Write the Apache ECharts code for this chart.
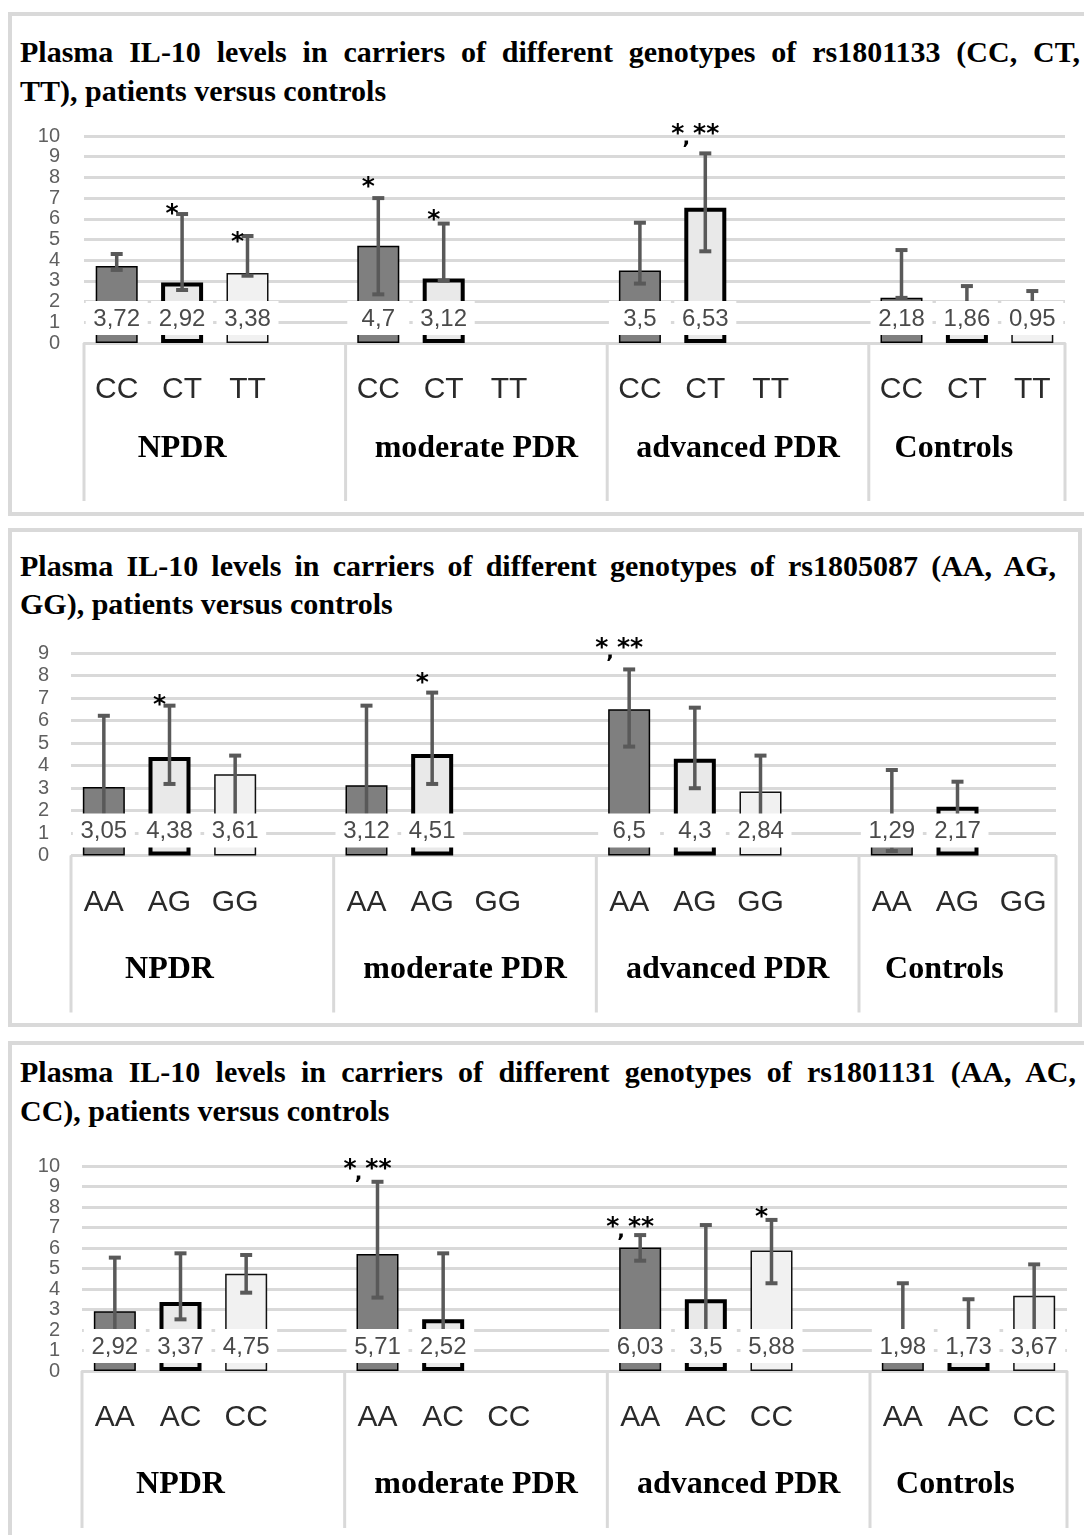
<!DOCTYPE html>
<html><head><meta charset="utf-8">
<script src="https://cdn.jsdelivr.net/npm/echarts@6/dist/echarts.min.js"></script>
<style>
html,body{margin:0;padding:0;background:#fff;}
body{width:1084px;height:1535px;overflow:hidden;position:relative;}
.panel{position:absolute;box-sizing:border-box;border:4px solid #d9d9d9;}
.t{position:absolute;left:20px;font:bold 30px "Liberation Serif","Times New Roman",serif;line-height:39px;color:#000;white-space:nowrap;}
.j{text-align:justify;text-align-last:justify;white-space:normal;}
.chart{position:absolute;left:0;top:0;width:1084px;height:1535px;}
</style></head>
<body>
<div class="panel" style="left:8px;top:12px;width:1100px;height:504px;"></div>
<div class="panel" style="left:8px;top:528px;width:1074px;height:499px;"></div>
<div class="panel" style="left:8px;top:1041px;width:1100px;height:520px;"></div>

<div class="t j" style="top:32px;width:1060px;">Plasma IL-10 levels in carriers of different genotypes of rs1801133 (CC, CT,</div>
<div class="t" style="top:70.5px;">TT), patients versus controls</div>
<div class="t j" style="top:545.5px;width:1036px;">Plasma IL-10 levels in carriers of different genotypes of rs1805087 (AA, AG,</div>
<div class="t" style="top:584px;">GG), patients versus controls</div>
<div class="t j" style="top:1052px;width:1056px;">Plasma IL-10 levels in carriers of different genotypes of rs1801131 (AA, AC,</div>
<div class="t" style="top:1090.5px;">CC), patients versus controls</div>

<div id="c1" class="chart"></div>
<div id="c2" class="chart"></div>
<div id="c3" class="chart"></div>

<script>
// ---------- DATA ----------
const groups = ['NPDR', 'moderate PDR', 'advanced PDR', 'Controls'];

// Panel 1 – rs1801133 ; rows = genotype, columns = group
const genotypes1 = ['CC', 'CT', 'TT'];
const values1  = [[3.72, 4.7, 3.5, 2.18], [2.92, 3.12, 6.53, 1.86], [3.38, null, null, 0.95]];
const errHigh1 = [[4.30, 7.00, 5.81, 4.49], [6.23, 5.77, 9.16, 2.75], [5.17, null, null, 2.51]];
const errLow1  = [[3.53, 2.35, 2.87, 2.18], [2.56, 3.01, 4.43, 1.86], [3.25, null, null, 0.95]];
const marks1   = [[0, 1, 6.52, '*'], [0, 2, 5.13, '*'], [1, 0, 7.79, '*'], [1, 1, 6.23, '*'], [2, 1, 10.37, '*,**']];
const yMax1 = 10;

// Panel 2 – rs1805087
const genotypes2 = ['AA', 'AG', 'GG'];
const values2  = [[3.05, 3.12, 6.5, 1.29], [4.38, 4.51, 4.3, 2.17], [3.61, null, 2.84, null]];
const errHigh2 = [[6.21, 6.66, 8.27, 3.80], [6.66, 7.24, 6.57, 3.28], [4.44, null, 4.44, null]];
const errLow2  = [[1.5, 1.5, 4.84, 0.2], [3.18, 3.18, 2.99, 1.5], [1.5, null, 1.5, null]];
const marks2   = [[0, 1, 6.92, '*'], [1, 1, 7.89, '*'], [2, 0, 9.47, '*,**']];
const yMax2 = 9;

// Panel 3 – rs1801131
const genotypes3 = ['AA', 'AC', 'CC'];
const values3  = [[2.92, 5.71, 6.03, 1.98], [3.37, 2.52, 3.5, 1.73], [4.75, null, 5.88, 3.67]];
const errHigh3 = [[5.53, 9.23, 6.63, 4.28], [5.74, 5.74, 7.12, 3.50], [5.66, null, 7.37, 5.20]];
const errLow3  = [[1.5, 3.58, 5.38, 1.5], [2.52, 1.5, 1.5, 1.5], [3.82, null, 4.28, 1.5]];
const marks3   = [[1, 0, 10.12, '*,**'], [2, 0, 7.27, '*,**'], [2, 2, 7.76, '*']];
const yMax3 = 10;

// ---------- STYLE / LAYOUT ----------
const barStyles = [
  {color: '#7f7f7f', borderColor: '#000', borderWidth: 1.5},
  {color: '#e9e9e9', borderColor: '#000', borderWidth: 4},
  {color: '#f1f1f1', borderColor: '#111', borderWidth: 1.5}
];
// where each group name sits, in category-slot units
const groupLabelAt = [1, 5.5, 9.5, 12.8];
const SANS = '"Liberation Sans", Arial, sans-serif';

function build(el, genotypes, values, errHigh, errLow, marks, yMax, L) {
  const nG = groups.length;
  const slot = (g, k) => g * 4 + k;
  const cats = [];
  groups.forEach((n, g) => {
    for (let k = 0; k < genotypes.length; k++) cats.push(genotypes[k] + '#' + g);
    if (g < nG - 1) cats.push('#' + g);
  });
  const barData = cats.map(() => '-');
  const labelData = cats.map(() => '-');
  const errData = [];
  groups.forEach((n, g) => {
    for (let k = 0; k < genotypes.length; k++) {
      const v = values[k][g];
      if (v == null) continue;
      barData[slot(g, k)] = {value: v, itemStyle: barStyles[k]};
      labelData[slot(g, k)] = v;
      if (errHigh[k][g] != null) errData.push([slot(g, k), errLow[k][g], errHigh[k][g]]);
    }
  });
  const groupData = groups.map((n, g) => [slot(g, 0), g < nG - 1 ? slot(g, 3) : slot(g, 2)]);
  const markData = marks.map(m => [slot(m[0], m[1]), m[2]]);

  const chart = echarts.init(document.getElementById(el), null, {renderer: 'canvas'});
  chart.setOption({
    animation: false,
    backgroundColor: 'transparent',
    grid: {left: L.left, top: L.top, width: L.width, height: L.height, containLabel: false, outerBoundsMode: 'none'},
    xAxis: {
      type: 'category', data: cats, boundaryGap: true,
      axisLine: {show: true, lineStyle: {color: '#d9d9d9', width: 2}},
      axisTick: {show: false},
      splitLine: {show: false},
      axisLabel: {interval: 0, margin: 32, fontSize: 30, color: '#2a2a2a', fontFamily: SANS,
        formatter: v => v.split('#')[0]}
    },
    yAxis: {
      type: 'value', min: 0, max: yMax, interval: 1,
      axisLine: {show: false}, axisTick: {show: false},
      splitLine: {show: true, lineStyle: {color: '#d9d9d9', width: 3}},
      axisLabel: {fontSize: 20, color: '#606060', margin: L.yMargin, fontFamily: SANS}
    },
    series: [
      {type: 'bar', data: barData, barWidth: 42, barGap: '-100%', z: 2, silent: true},
      {type: 'custom', z: 3, silent: true, data: errData,
        renderItem: (params, api) => {
          const s = api.value(0), lo = api.value(1), hi = api.value(2);
          const pH = api.coord([s, hi]), pL = api.coord([s, lo]);
          const x = pH[0], st = {stroke: '#595959', lineWidth: 3.5};
          return {type: 'group', children: [
            {type: 'line', shape: {x1: x, y1: pH[1], x2: x, y2: pL[1]}, style: st},
            {type: 'line', shape: {x1: x - 6, y1: pH[1], x2: x + 6, y2: pH[1]}, style: {stroke: '#595959', lineWidth: 4}},
            {type: 'line', shape: {x1: x - 6, y1: pL[1], x2: x + 6, y2: pL[1]}, style: {stroke: '#595959', lineWidth: 4}}
          ]};
        }},
      {type: 'bar', data: labelData, barWidth: 42, barGap: '-100%', z: 4, silent: true,
        itemStyle: {color: 'rgba(0,0,0,0)'},
        label: {show: true, position: 'insideBottom', distance: 8,
          formatter: p => String(p.value).replace('.', ','),
          backgroundColor: '#fff', width: 62, align: 'center', padding: [6, 0, 4, 0],
          fontSize: 24, lineHeight: 24, color: '#4a4a4a', fontFamily: SANS}},
      {type: 'custom', z: 3, silent: true, data: groupData,
        renderItem: (params, api) => {
          const g = params.dataIndex;
          const bw = api.size([1, 0])[0];
          const p0 = api.coord([api.value(0), 0]), p1 = api.coord([api.value(1), 0]);
          const xL = p0[0] - bw / 2, xR = p1[0] + bw / 2, y = p0[1];
          const base = Math.floor(groupLabelAt[g]);
          const xc = api.coord([base, 0])[0] + (groupLabelAt[g] - base) * bw;
          const ln = {stroke: '#d9d9d9', lineWidth: 3};
          const ch = [
            {type: 'line', shape: {x1: xL, y1: y, x2: xL, y2: y + L.tableH}, style: ln},
            {type: 'text', x: xc, y: y + L.groupDy,
              style: {text: groups[g], font: 'bold 32px "Liberation Serif", "Times New Roman", serif', fill: '#000', align: 'center', verticalAlign: 'middle'}}
          ];
          if (g === nG - 1) ch.push({type: 'line', shape: {x1: xR, y1: y, x2: xR, y2: y + L.tableH}, style: ln});
          return {type: 'group', children: ch};
        }},
      {type: 'custom', z: 6, silent: true, data: markData,
        renderItem: (params, api) => {
          const m = marks[params.dataIndex];
          const p = api.coord([api.value(0), api.value(1)]);
          const f = 'bold 25px "DejaVu Sans", sans-serif';
          const ch = [];
          if (m[3] === '*,**') {
            ch.push({type: 'text', x: p[0] - 10, y: p[1] + 6, style: {text: '* **', font: f, fill: '#000', align: 'center', verticalAlign: 'middle'}});
            ch.push({type: 'text', x: p[0] - 19, y: p[1] + 10, style: {text: ',', font: 'bold 20px "DejaVu Sans", sans-serif', fill: '#000', align: 'center', verticalAlign: 'middle'}});
          } else {
            ch.push({type: 'text', x: p[0] - 10, y: p[1] + 6, style: {text: m[3], font: f, fill: '#000', align: 'center', verticalAlign: 'middle'}});
          }
          return {type: 'group', children: ch};
        }}
    ]
  });
}

build('c1', genotypes1, values1, errHigh1, errLow1, marks1, yMax1,
  {left: 84, top: 136, width: 981, height: 207, yMargin: 24, tableH: 158, groupDy: 106});
build('c2', genotypes2, values2, errHigh2, errLow2, marks2, yMax2,
  {left: 71, top: 653, width: 985, height: 202.5, yMargin: 22, tableH: 157, groupDy: 114});
build('c3', genotypes3, values3, errHigh3, errLow3, marks3, yMax3,
  {left: 82, top: 1166, width: 985, height: 205, yMargin: 22, tableH: 157, groupDy: 114});
</script>
</body></html>
